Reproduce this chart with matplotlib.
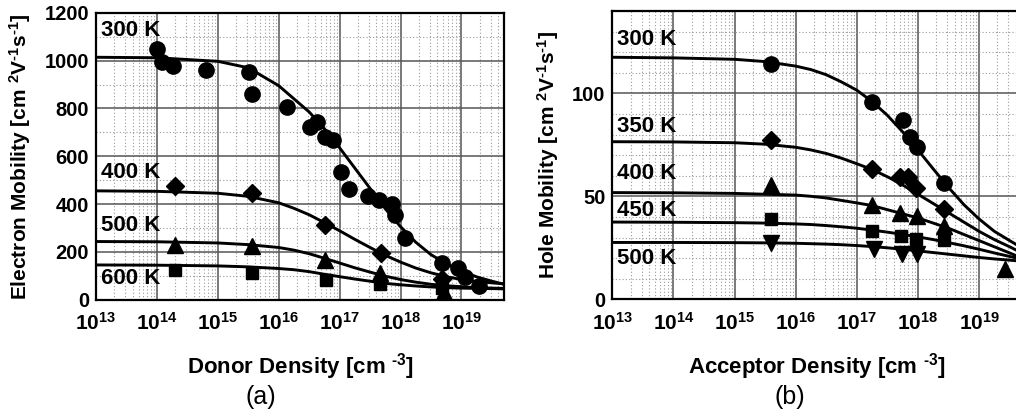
import matplotlib
matplotlib.use("Agg")
import matplotlib.pyplot as plt
import numpy as np
from matplotlib.ticker import LogLocator, FixedLocator, MultipleLocator, NullFormatter

plt.rcParams['font.family'] = ['Liberation Sans', 'DejaVu Sans']
plt.rcParams['font.weight'] = 'bold'
plt.rcParams['mathtext.fontset'] = 'custom'
plt.rcParams['mathtext.rm'] = 'Liberation Sans:bold'
plt.rcParams['mathtext.bf'] = 'Liberation Sans:bold'
plt.rcParams['mathtext.it'] = 'Liberation Sans:bold'

# ---- (a) electrons: fitted curves, read at these exponents of N_D ----
curve_logN = [13, 14, 15, 15.5, 16, 16.25, 16.5, 16.75, 17, 17.25,
              17.5, 17.75, 18, 18.25, 18.5, 18.75, 19, 19.25, 19.5, 19.7]
mu_n_300 = [1014, 1012, 997, 970, 895, 840, 785, 715, 635, 550,
            465, 380, 305, 240, 188, 150, 120, 95, 77, 64]
mu_n_400 = [455, 453, 445, 432, 405, 382, 355, 322, 288, 252,
            218, 185, 157, 132, 112, 96, 84, 76, 70, 66]
mu_n_500 = [243, 242, 237, 230, 218, 207, 192, 173, 153, 133,
            115, 98, 84, 73, 64, 58, 54, 50, 48, 47]
mu_n_600 = [145, 144, 141, 137, 130, 125, 117, 106, 96, 86,
            77, 68, 62, 57, 53, 50, 48, 47, 46, 45]

# measured electron mobility
nd_300 = [1.0e14, 1.23e14, 1.86e14, 6.3e14, 3.2e15, 3.7e15, 1.38e16, 3.2e16,
          4.3e16, 5.8e16, 7.7e16, 1.07e17, 1.45e17, 2.95e17, 4.4e17, 7.2e17,
          8.0e17, 1.18e18, 4.8e18, 8.9e18, 1.15e19, 1.95e19]
mn_300 = [1047, 995, 979, 961, 954, 860, 807, 723,
          744, 682, 668, 535, 461, 435, 417, 400,
          354, 256, 154, 131, 96, 57]
nd_400 = [2.0e14, 3.6e15, 5.8e16, 4.8e17, 4.8e18]
mn_400 = [474, 448, 312, 196, 85]
nd_500 = [2.0e14, 3.6e15, 5.8e16, 4.6e17, 5.2e18]
mn_500 = [227, 225, 166, 113, 33]
nd_600 = [2.0e14, 3.6e15, 6.0e16, 4.6e17, 4.8e18]
mn_600 = [124, 112, 82, 66, 48]

# ---- (b) holes ----
mu_p_300 = [117.5, 117.2, 116.5, 115.4, 113.2, 111.5, 109.0, 105.5, 101.5, 96.0,
            89.3, 81.3, 72.5, 63.3, 54.3, 46.0, 39.0, 33.0, 28.5, 25.0]
mu_p_350 = [76.5, 76.4, 76.0, 75.3, 73.8, 72.5, 70.8, 68.5, 65.8, 63.0,
            59.5, 55.5, 51.0, 46.5, 42.0, 37.5, 33.0, 29.0, 25.5, 22.5]
mu_p_400 = [51.8, 51.7, 51.4, 51.0, 50.6, 50.0, 49.2, 48.0, 46.8, 45.5,
            43.5, 41.5, 39.5, 37.0, 34.5, 31.5, 28.5, 25.5, 22.5, 20.0]
mu_p_450 = [37.5, 37.4, 37.2, 37.0, 36.6, 36.3, 35.8, 35.2, 34.5, 33.6,
            32.6, 31.5, 30.3, 29.0, 27.5, 26.0, 24.3, 22.5, 20.8, 19.5]
mu_p_500 = [27.6, 27.6, 27.5, 27.4, 27.2, 27.0, 26.8, 26.5, 26.1, 25.6,
            25.0, 24.3, 23.5, 22.7, 21.9, 21.1, 20.3, 19.6, 19.0, 18.5]

na_300 = [3.9e15, 1.76e17, 5.6e17, 7.3e17, 9.6e17, 2.7e18]
mp_300 = [114, 96, 87, 78.6, 73.8, 56.6]
na_350 = [3.9e15, 1.8e17, 5.1e17, 7.0e17, 9.4e17, 2.7e18]
mp_350 = [77.3, 63.1, 59.2, 59.5, 53.9, 43.7]
na_400 = [3.9e15, 1.8e17, 5.1e17, 9.6e17, 2.7e18, 2.7e19]
mp_400 = [55.5, 45.8, 41.7, 40.4, 35.6, 14.6]
na_450 = [3.9e15, 1.8e17, 5.2e17, 9.4e17, 2.7e18]
mp_450 = [38.8, 33.3, 30.7, 29.1, 28.8]
na_500 = [3.9e15, 1.9e17, 5.5e17, 9.6e17]
mp_500 = [27.2, 24.3, 22.0, 22.0]

curve_n = 10.0 ** np.array(curve_logN)

fig = plt.figure(figsize=(10.16, 4.16), dpi=100)
ax_a = fig.add_axes([0.0945, 0.2798, 0.4016, 0.6894])
ax_b = fig.add_axes([0.6027, 0.2805, 0.4030, 0.6933])

UNITS = r'[cm $^{\text{2}}$V$^{\text{-1}}$s$^{\text{-1}}$]'


def style_axes(ax, ymax, ymajor, yminor):
    ax.set_xscale('log')
    ax.set_xlim(1e13, 5e19)
    ax.set_ylim(0, ymax)
    ax.xaxis.set_major_locator(FixedLocator([10.0 ** k for k in range(13, 20)]))
    ax.xaxis.set_minor_locator(LogLocator(base=10, subs=np.arange(2, 10), numticks=20))
    ax.xaxis.set_minor_formatter(NullFormatter())
    ax.set_xticklabels([r'$\mathbf{10^{%d}}$' % k for k in range(13, 20)])
    ax.yaxis.set_major_locator(MultipleLocator(ymajor))
    ax.yaxis.set_minor_locator(MultipleLocator(yminor))
    ax.grid(which='major', color='#555555', linewidth=1.1, linestyle='-')
    ax.grid(which='minor', color='#9a9a9a', linewidth=0.8, linestyle=(0, (1, 2)))
    ax.set_axisbelow(True)
    ax.tick_params(which='both', length=0)
    ax.tick_params(axis='x', labelsize=15, pad=9)
    ax.tick_params(axis='y', labelsize=14.5, pad=5)
    for s in ax.spines.values():
        s.set_linewidth(1.6)
    for lab in ax.get_yticklabels():
        lab.set_fontweight('bold')


style_axes(ax_a, 1200, 200, 100)
style_axes(ax_b, 140, 50, 10)
ax_b.set_yticks([0, 50, 100])

line_kw = dict(color='black', linewidth=2.1, zorder=3)
mk_kw = dict(color='black', linestyle='none', zorder=4)

# (a) electrons
for mu in (mu_n_300, mu_n_400, mu_n_500, mu_n_600):
    ax_a.plot(curve_n, mu, **line_kw)
ax_a.plot(nd_300, mn_300, marker='o', markersize=11, **mk_kw)
ax_a.plot(nd_400, mn_400, marker='D', markersize=9, **mk_kw)
ax_a.plot(nd_500, mn_500, marker='^', markersize=12, **mk_kw)
ax_a.plot(nd_600, mn_600, marker='s', markersize=9, **mk_kw)

lab_kw = dict(fontsize=16, fontweight='bold', ha='left', va='center', zorder=5)
for txt, yv in (('300 K', 1128), ('400 K', 530), ('500 K', 310), ('600 K', 90)):
    ax_a.text(1.2e13, yv, txt, **lab_kw)

ax_a.set_ylabel('Electron Mobility ' + UNITS, fontsize=15, fontweight='bold')
ax_a.yaxis.set_label_coords(-0.155, 0.5)
ax_a.set_xlabel(r'Donor Density [cm $^{\text{-3}}$]', fontsize=16, fontweight='bold')
ax_a.xaxis.set_label_coords(0.5, -0.18)

# (b) holes
for mu in (mu_p_300, mu_p_350, mu_p_400, mu_p_450, mu_p_500):
    ax_b.plot(curve_n, mu, **line_kw)
ax_b.plot(na_300, mp_300, marker='o', markersize=11, **mk_kw)
ax_b.plot(na_350, mp_350, marker='D', markersize=9, **mk_kw)
ax_b.plot(na_400, mp_400, marker='^', markersize=12, **mk_kw)
ax_b.plot(na_450, mp_450, marker='s', markersize=9, **mk_kw)
ax_b.plot(na_500, mp_500, marker='v', markersize=12, **mk_kw)

for txt, yv in (('300 K', 126), ('350 K', 84), ('400 K', 61), ('450 K', 43), ('500 K', 20)):
    ax_b.text(1.2e13, yv, txt, **lab_kw)

ax_b.set_ylabel('Hole Mobility ' + UNITS, fontsize=15, fontweight='bold')
ax_b.yaxis.set_label_coords(-0.125, 0.5)
ax_b.set_xlabel(r'Acceptor Density [cm $^{\text{-3}}$]', fontsize=16, fontweight='bold')
ax_b.xaxis.set_label_coords(0.5, -0.18)

fig.text(261 / 1016, 1 - 397 / 416, '(a)', fontsize=18, fontweight='normal', ha='center', va='center')
fig.text(790 / 1016, 1 - 397 / 416, '(b)', fontsize=18, fontweight='normal', ha='center', va='center')

fig.savefig('out.png', dpi=100)
